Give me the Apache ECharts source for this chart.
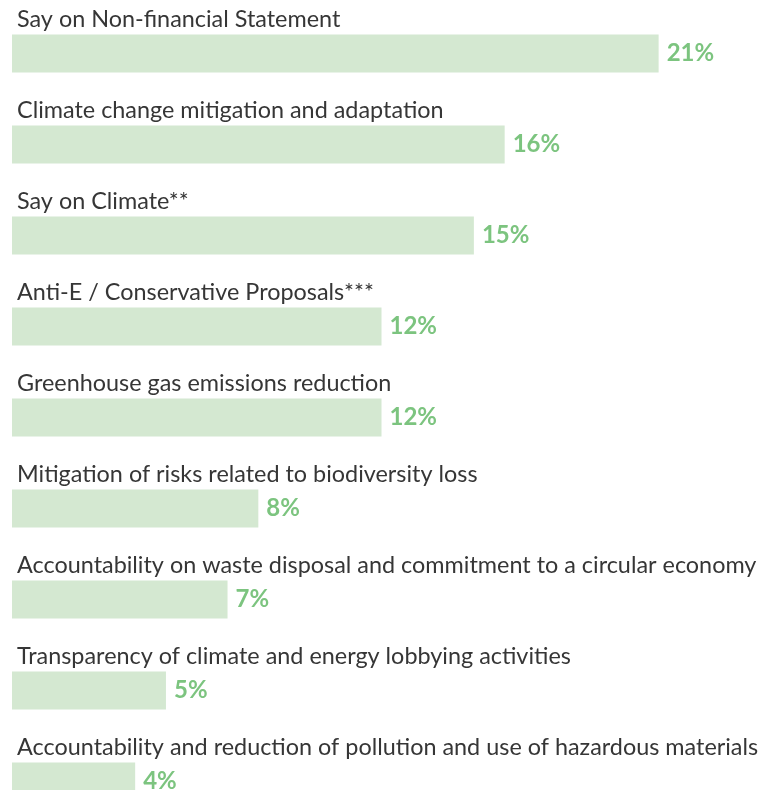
<!DOCTYPE html>
<html>
<head>
<meta charset="utf-8">
<script src="https://cdn.jsdelivr.net/npm/echarts@6/dist/echarts.min.js"></script>
<style>
    html, body { margin: 0; padding: 0; background: #fff; overflow: hidden; }
    #chart { width: 762px; height: 828px; }
</style>
</head>
<body>
<div id="chart"></div>
<script>
const categories = [
    'Say on Non-financial Statement',
    'Climate change mitigation and adaptation',
    'Say on Climate**',
    'Anti-E / Conservative Proposals***',
    'Greenhouse gas emissions reduction',
    'Mitigation of risks related to biodiversity loss',
    'Accountability on waste disposal and commitment to a circular economy',
    'Transparency of climate and energy lobbying activities',
    'Accountability and reduction of pollution and use of hazardous materials'
];
const shares = [21, 16, 15, 12, 12, 8, 7, 5, 4];

const chart = echarts.init(document.getElementById('chart'));

chart.setOption({
    animation: false,
    grid: { left: 12, top: 8, width: 739, height: 819 },
    xAxis: {
        type: 'value',
        min: 0,
        max: 24,
        show: false
    },
    yAxis: {
        type: 'category',
        data: categories,
        inverse: true,
        axisLine: { show: false },
        axisTick: { show: false },
        splitLine: { show: false },
        axisLabel: {
            inside: true,
            margin: 5,
            align: 'left',
            verticalAlign: 'bottom',
            padding: [0, 0, 23, 0],
            fontFamily: 'Lato',
            fontSize: 23.4,
            color: '#363636'
        }
    },
    series: [
        {
            type: 'bar',
            data: shares,
            barWidth: 38,
            itemStyle: { color: '#d4e8d1' },
            label: {
                show: true,
                position: 'right',
                distance: 8,
                formatter: '{c}%',
                fontFamily: 'Lato',
                fontWeight: 'bold',
                fontSize: 24,
                color: '#7cc47f'
            }
        }
    ]
});
</script>
</body>
</html>
